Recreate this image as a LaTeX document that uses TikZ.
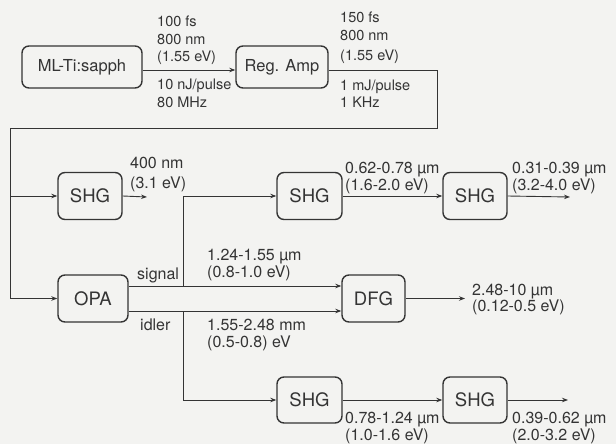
\documentclass[tikz,border=0pt]{standalone}
\usepackage{fontspec}
\setmainfont{TeX Gyre Heros}
\usetikzlibrary{arrows.meta}
\definecolor{ink}{RGB}{52,52,52}
\definecolor{bgc}{RGB}{243,243,241}
\begin{document}
\begin{tikzpicture}[x=1pt,y=-1pt,
  box/.style={draw=ink,line width=1.4pt,rounded corners=7pt,text=ink,inner sep=0pt},
  topbox/.style={box,font=\fontsize{16.5}{18}\selectfont,minimum height=42pt},
  lowbox/.style={box,font=\fontsize{18.5}{20}\selectfont,minimum width=64pt,minimum height=47pt},
  wire/.style={draw=ink,line width=0.9pt},
  arr/.style={wire,-{Stealth[length=6pt,width=4.5pt]}},
  lbl/.style={text=ink,inner sep=0pt,anchor=base west,font=\fontsize{16}{18}\selectfont},
  tlbl/.style={lbl,font=\fontsize{14.5}{16}\selectfont}]
\fill[bgc] (0,0) rectangle (616,444);
\useasboundingbox (0,0) rectangle (616,444);
% boxes
\node[topbox,minimum width=120pt] (ml) at (82,67) {ML-Ti:sapph};
\node[topbox,minimum width=92pt] (amp) at (282,67) {Reg. Amp};
\node[lowbox] (shgA) at (90,196) {SHG};
\node[lowbox,minimum width=70pt] (opa) at (93,298.5) {OPA};
\node[lowbox,minimum width=65pt] (shgB) at (309.5,196) {SHG};
\node[lowbox] (shgC) at (475,196) {SHG};
\node[lowbox,minimum width=63pt] (dfg) at (373.5,298.5) {DFG};
\node[lowbox,minimum width=65pt,minimum height=46pt] (shgD) at (309.5,400) {SHG};
\node[lowbox,minimum height=46pt] (shgE) at (475,400) {SHG};
% coordinates
\coordinate (c1) at (437,70);
\coordinate (c2) at (437,128);
\coordinate (c3) at (10,128);
\coordinate (eA) at (147,197);
\coordinate (bs) at (183,286);
\coordinate (bi) at (183,311);
\coordinate (eC) at (570,197);
\coordinate (eF) at (465,298.5);
\coordinate (eE) at (568,400);
% connectors
\draw[arr] ([yshift=-3pt]ml.east) -- ([yshift=-3pt]amp.west);
\draw[wire] ([yshift=-3pt]amp.east) -- (c1) -- (c2) -- (c3);
\draw[arr] (c3) |- (opa.west);
\draw[arr] (c3 |- shgA.west) -- (shgA.west);
\draw[arr] (shgA.east) -- (eA);
\draw[arr] ([yshift=12.5pt]opa.east) -- ([yshift=12.5pt]dfg.west);
\draw[arr] ([yshift=-12.5pt]opa.east) -- ([yshift=-12.5pt]dfg.west);
\draw[arr] (bs) |- (shgB.west);
\draw[arr] (bi) |- (shgD.west);
\draw[arr] (shgB.east) -- (shgC.west);
\draw[arr] (shgC.east) -- (eC);
\draw[arr] (dfg.east) -- (eF);
\draw[arr] (shgD.east) -- (shgE.west);
\draw[arr] (shgE.east) -- (eE);
% labels
\node[tlbl] (l1a) at (157,26.5) {100 fs};
\node[tlbl] (l1b) at (157,44.5) {800 nm};
\node[tlbl] (l1c) at (157,62) {(1.55 eV)};
\node[tlbl] (l1d) at (157,89.5) {10 nJ/pulse};
\node[tlbl] (l1e) at (157,107.5) {80 MHz};
\node[tlbl] (l2a) at (340,22.5) {150 fs};
\node[tlbl] (l2b) at (340,41) {800 nm};
\node[tlbl] (l2c) at (340,60) {(1.55 eV)};
\node[tlbl] (l2d) at (340,90) {1 mJ/pulse};
\node[tlbl] (l2e) at (340,107.5) {1 KHz};
\node[lbl] (l3a) at (130,168) {400 nm};
\node[lbl] (l3b) at (130,188) {(3.1 eV)};
\node[lbl] (lsig) at (137,279) {signal};
\node[lbl] (lidl) at (140,330) {idler};
\node[lbl] (l4a) at (207,260) {1.24-1.55 µm};
\node[lbl] (l4b) at (207,277) {(0.8-1.0 eV)};
\node[lbl] (l5a) at (207,330) {1.55-2.48 mm};
\node[lbl] (l5b) at (207,347) {(0.5-0.8) eV};
\node[lbl] (l6a) at (345,173) {0.62-0.78 µm};
\node[lbl] (l6b) at (345,190) {(1.6-2.0 eV)};
\node[lbl] (l7a) at (512,173) {0.31-0.39 µm};
\node[lbl] (l7b) at (512,190) {(3.2-4.0 eV)};
\node[lbl] (l8a) at (472,295) {2.48-10 µm};
\node[lbl] (l8b) at (472,311) {(0.12-0.5 eV)};
\node[lbl] (l9a) at (345,423) {0.78-1.24 µm};
\node[lbl] (l9b) at (345,440) {(1.0-1.6 eV)};
\node[lbl] (l10a) at (512,423) {0.39-0.62 µm};
\node[lbl] (l10b) at (512,440) {(2.0-3.2 eV)};
\end{tikzpicture}
\end{document}
